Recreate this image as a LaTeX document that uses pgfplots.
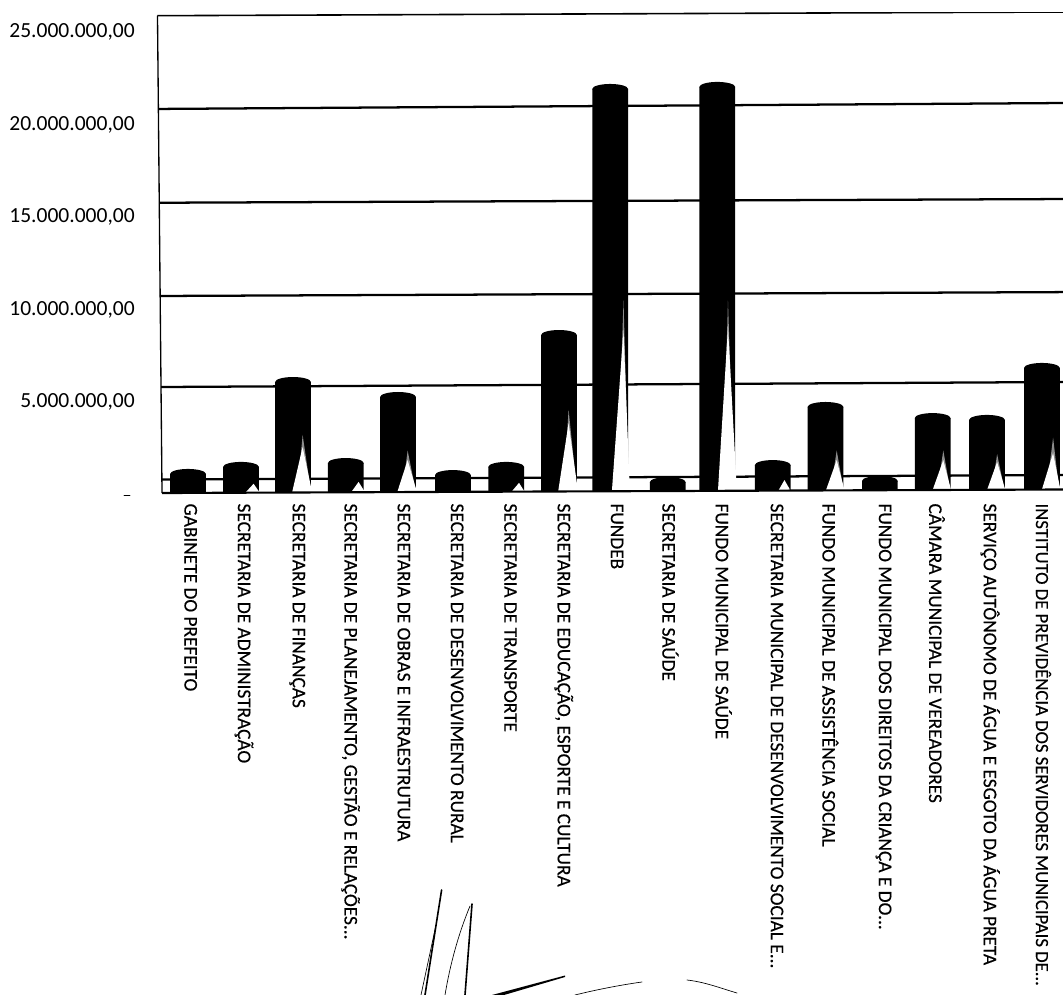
\documentclass[border=0pt]{standalone}
\usepackage{fontspec}
\setmainfont{Carlito}
\newfontface\labfont[FakeBold=0.35]{Carlito}
\usepackage{pgfplots}
\pgfplotsset{compat=1.18}
\protected\def\dd{.{}.{}.}
\pgfdeclareplotmark{cyl}{\pgfpathellipse{\pgfpointorigin}{\pgfqpoint{13.4pt}{0pt}}{\pgfqpoint{0pt}{3.75pt}}\pgfusepathqfill}
\begin{document}
\begin{tikzpicture}
\useasboundingbox (0,0) rectangle (797.25pt,-746.25pt);
\begin{axis}[
  at={(117pt,-371.25pt)}, anchor=south west,
  scale only axis, width=680.25pt, height=362.25pt,
  xmin=-0.651, xmax=16.366, ymin=-108000, ymax=26000000,
  axis line style={draw=none},
  major tick length=0pt, scaled y ticks=false,
  xtick={0,1,2,3,4,5,6,7,8,9,10,11,12,13,14,15,16},
  xticklabels={GABINETE DO PREFEITO,SECRETARIA DE ADMINISTRAÇÃO,SECRETARIA DE FINANÇAS,{SECRETARIA DE PLANEJAMENTO, GESTÃO E RELAÇÕES\dd},SECRETARIA DE OBRAS E INFRAESTRUTURA,SECRETARIA DE DESENVOLVIMENTO RURAL,SECRETARIA DE TRANSPORTE,{SECRETARIA DE EDUCAÇÃO, ESPORTE E CULTURA},FUNDEB,SECRETARIA DE SAÚDE,FUNDO MUNICIPAL DE SAÚDE,{SECRETARIA MUNICIPAL DE DESENVOLVIMENTO SOCIAL E\dd},FUNDO MUNICIPAL DE ASSISTÊNCIA SOCIAL,{FUNDO MUNICIPAL DOS DIREITOS DA CRIANÇA E DO\dd},CÂMARA MUNICIPAL DE VEREADORES,SERVIÇO AUTÔNOMO DE ÁGUA E ESGOTO DA ÁGUA PRETA,{\fontsize{14}{14}\selectfont INSTITUTO DE PREVIDÊNCIA DOS SERVIDORES MUNICIPAIS DE\dd}},
  xticklabel style={yshift=-6.2pt,rotate=-90,anchor=west,inner sep=0pt,font=\labfont\fontsize{14.5}{14.5}\selectfont},
  ytick={5000000,10000000,15000000,20000000,25000000},
  yticklabels={{5.000.000,00},{10.000.000,00},{15.000.000,00},{20.000.000,00},{25.000.000,00}},
  yticklabel style={xshift=-15.75pt,yshift=-1.1pt,anchor=east,inner sep=0pt,font=\fontsize{16.15}{16.15}\selectfont},
  clip mode=individual,
]
% back wall lines
\addplot[black,line width=1.7pt] coordinates {(-0.54,730000)(16.366,970000)};
\addplot[black,line width=1.7pt] coordinates {(-0.557,5730000)(16.366,6000000)};
\addplot[black,line width=1.7pt] coordinates {(-0.576,10650000)(16.366,10860000)};
\addplot[black,line width=1.7pt] coordinates {(-0.585,15690000)(16.366,15890000)};
\addplot[black,line width=1.7pt] coordinates {(-0.60,20760000)(16.366,21080000)};
\addplot[black,line width=1.2pt] coordinates {(-0.623,25800000)(16.366,26000000)};
% cylinders
\addplot[ybar,bar width=26.8pt,bar shift=0pt,fill=black,draw=none] coordinates {
(-0.05,1030000)(0.944,1410000)(1.92,6000000)(2.91,1620000)(3.89,5190000)(4.92,970000)(5.92,1410000)(6.91,8540000)(7.87,21840000)(8.95,590000)(9.88,21950000)(10.92,1510000)(11.91,4650000)(12.93,650000)(13.92,4050000)(14.94,3950000)(15.97,6760000)};
\addplot[only marks,mark=cyl,black] coordinates {
(-0.05,1030000)(0.944,1410000)(1.92,6000000)(2.91,1620000)(3.89,5190000)(4.92,970000)(5.92,1410000)(6.91,8540000)(7.87,21840000)(8.95,590000)(9.88,21950000)(10.92,1510000)(11.91,4650000)(12.93,650000)(13.92,4050000)(14.94,3950000)(15.97,6760000)};
% grey highlights
\addplot[fill=black!45,draw=none] coordinates {(2.0,0)(2.26,0)(2.10,3140000)} --cycle;
\addplot[fill=black!45,draw=none] coordinates {(3.97,0)(4.23,0)(4.07,2300000)} --cycle;
\addplot[fill=black!45,draw=none] coordinates {(6.99,0)(7.25,0)(7.09,4500000)} --cycle;
\addplot[fill=black!45,draw=none] coordinates {(8.0,0)(8.22,0)(8.12,10400000)} --cycle;
\addplot[fill=black!45,draw=none] coordinates {(9.98,0)(10.2,0)(10.08,10400000)} --cycle;
\addplot[fill=black!45,draw=none] coordinates {(12.0,0)(12.26,0)(12.12,2300000)} --cycle;
\addplot[fill=black!45,draw=none] coordinates {(14.0,0)(14.26,0)(14.12,2300000)} --cycle;
\addplot[fill=black!45,draw=none] coordinates {(15.02,0)(15.28,0)(15.13,2100000)} --cycle;
\addplot[fill=black!45,draw=none] coordinates {(16.05,0)(16.3,0)(16.18,3000000)} --cycle;
% white highlights
\addplot[fill=white,draw=none] coordinates {(1.02,0)(1.30,0)(1.18,500000)} --cycle;
\addplot[fill=white,draw=none] coordinates {(1.90,0)(2.28,0)(2.10,2490000)} --cycle;
\addplot[fill=white,draw=none] coordinates {(3.0,0)(3.28,0)(3.15,600000)} --cycle;
\addplot[fill=white,draw=none] coordinates {(3.87,0)(4.25,0)(4.07,1780000)} --cycle;
\addplot[fill=white,draw=none] coordinates {(6.0,0)(6.28,0)(6.16,550000)} --cycle;
\addplot[fill=white,draw=none] coordinates {(6.89,0)(7.27,0)(7.09,3780000)} --cycle;
\addplot[fill=white,draw=none] coordinates {(7.90,0)(8.24,0)(8.12,8800000)} --cycle;
\addplot[fill=white,draw=none] coordinates {(9.89,0)(10.25,0)(10.08,8970000)} --cycle;
\addplot[fill=white,draw=none] coordinates {(11.0,0)(11.28,0)(11.14,700000)} --cycle;
\addplot[fill=white,draw=none] coordinates {(11.9,0)(12.28,0)(12.12,1780000)} --cycle;
\addplot[fill=white,draw=none] coordinates {(13.90,0)(14.28,0)(14.12,1780000)} --cycle;
\addplot[fill=white,draw=none] coordinates {(14.92,0)(15.30,0)(15.13,1680000)} --cycle;
\addplot[fill=white,draw=none] coordinates {(15.95,0)(16.33,0)(16.18,2160000)} --cycle;
% tilted frame of the scanned page
\addplot[fill=white,draw=none] coordinates {(-0.651,-108000)(16.366,-108000)(16.366,190000)(-0.538,0)} --cycle;
\addplot[black,line width=1.6pt] coordinates {(-0.538,0)(16.366,190000)};
\addplot[black,line width=1pt] coordinates {(-0.623,25800000)(-0.538,0)};
\end{axis}
% pen strokes crossing the scanned page
\begin{scope}[x=0.75pt,y=-0.75pt,line cap=round]
\draw[line width=1.2pt] (441.6,890) -- (425,995);
\draw[line width=0.5pt] (436,925) -- (421,995);
\draw[line width=1.2pt] (472,904) -- (465,995);
\draw[line width=0.5pt] (470,906) .. controls (458,935) and (450,965) .. (445,995);
\fill (565,975.5) -- (492,995) -- (504,995) -- (565,977) -- cycle;
\draw[line width=0.5pt] (575,995) .. controls (595,990) and (620,985) .. (642,982);
\draw[line width=0.5pt] (687,980) .. controls (705,982) and (720,988) .. (737,993);
\draw[line width=0.6pt] (124,495.5) -- (130,495.5);
\end{scope}
\end{tikzpicture}
\end{document}
